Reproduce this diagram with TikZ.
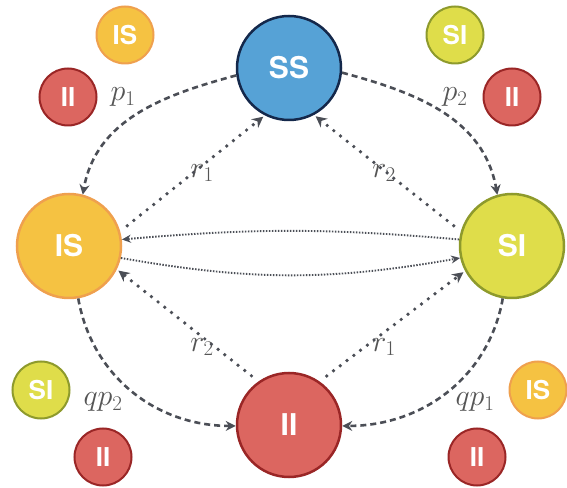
\RequirePackage{fix-cm}
\documentclass[tikz,border=0pt]{standalone}
\usepackage{fontspec}
\setsansfont{TeX Gyre Heros}
\usetikzlibrary{arrows.meta}
\definecolor{ssfill}{HTML}{56A2D6}
\definecolor{ssedge}{HTML}{14284B}
\definecolor{isfill}{HTML}{F5C242}
\definecolor{isedge}{HTML}{EFA04E}
\definecolor{sifill}{HTML}{DFDD4A}
\definecolor{siedge}{HTML}{8E9A2C}
\definecolor{iifill}{HTML}{DC6660}
\definecolor{iiedge}{HTML}{9A2626}
\definecolor{arrgray}{HTML}{4B4E56}
\definecolor{labgray}{HTML}{555555}

\begin{document}
\begin{tikzpicture}[x=1pt,y=1pt,
    state/.style={circle, line width=2.5pt, minimum size=104pt, inner sep=0pt, text=white,
        font=\sffamily\bfseries\fontsize{30}{30}\selectfont},
    small/.style={state, minimum size=57pt, line width=2pt,
        font=\sffamily\bfseries\fontsize{26}{26}\selectfont},
    ss/.style={fill=ssfill, draw=ssedge},
    is/.style={fill=isfill, draw=isedge},
    si/.style={fill=sifill, draw=siedge},
    ii/.style={fill=iifill, draw=iiedge},
    rate/.style={text=labgray, font=\fontsize{30}{30}\selectfont},
    jump/.style={arrgray, line width=2.6pt, dash pattern=on 6pt off 4pt,
        -{Stealth[length=10pt,width=10pt]}},
    back/.style={arrgray, line width=3.7pt, line cap=round, dash pattern=on 0pt off 8.5pt,
        shorten <=9pt, shorten >=2pt, -{Stealth[length=11pt,width=11pt]}},
    swap/.style={arrgray, line width=1.9pt, dash pattern=on 1.5pt off 1.5pt,
        -{Stealth[length=9pt,width=8pt]}}]
    \useasboundingbox (0,0) rectangle (567,487);
    % states
    \node [state, ss] (SS) at (289,419) {SS};
    \node [state, is] (IS) at (69,241) {IS};
    \node [state, si] (SI) at (512,241) {SI};
    \node [state, ii] (II) at (289,62) {II};
    % pairs beside the jumps
    \node [small, is] (ISa) at (125,452) {IS};
    \node [small, ii] (IIa) at (68,390) {II};
    \node [small, si] (SIa) at (455,452) {SI};
    \node [small, ii] (IIb) at (512,390) {II};
    \node [small, si] (SIb) at (41,97) {SI};
    \node [small, ii] (IIc) at (103,30) {II};
    \node [small, is] (ISb) at (538,97) {IS};
    \node [small, ii] (IId) at (477,30) {II};
    % rates
    \node [rate] (p1) at (123,390) {$p_1$};
    \node [rate] (p2) at (455,390) {$p_2$};
    \node [rate] (r1a) at (202,314) {$r_1$};
    \node [rate] (r2a) at (384,314) {$r_2$};
    \node [rate] (r2b) at (202,140) {$r_2$};
    \node [rate] (r1b) at (384,140) {$r_1$};
    \node [rate] (qp2) at (103,85) {$qp_2$};
    \node [rate] (qp1) at (475,85) {$qp_1$};
    % infections
    \draw [jump] (SS.188) to[out=195, in=80] (IS.75);
    \draw [jump] (SS.-5) to[out=-15, in=100] (SI.106);
    \draw [jump] (IS.-80) to[out=-80, in=180] (II.181);
    \draw [jump] (SI.-100) to[out=-100, in=0] (II.-1);
    % recoveries
    \draw [back] (IS.16) -- (SS.-117);
    \draw [back] (SI.164) -- (SS.-62);
    \draw [back] (II.125) -- (IS.-26);
    \draw [back] (II.55) -- (SI.-152);
    % swaps
    \draw [swap] (SI.173) to[bend right=5] (IS.7);
    \draw [swap] (IS.-13) to[bend right=10] (SI.193);
\end{tikzpicture}
\end{document}
